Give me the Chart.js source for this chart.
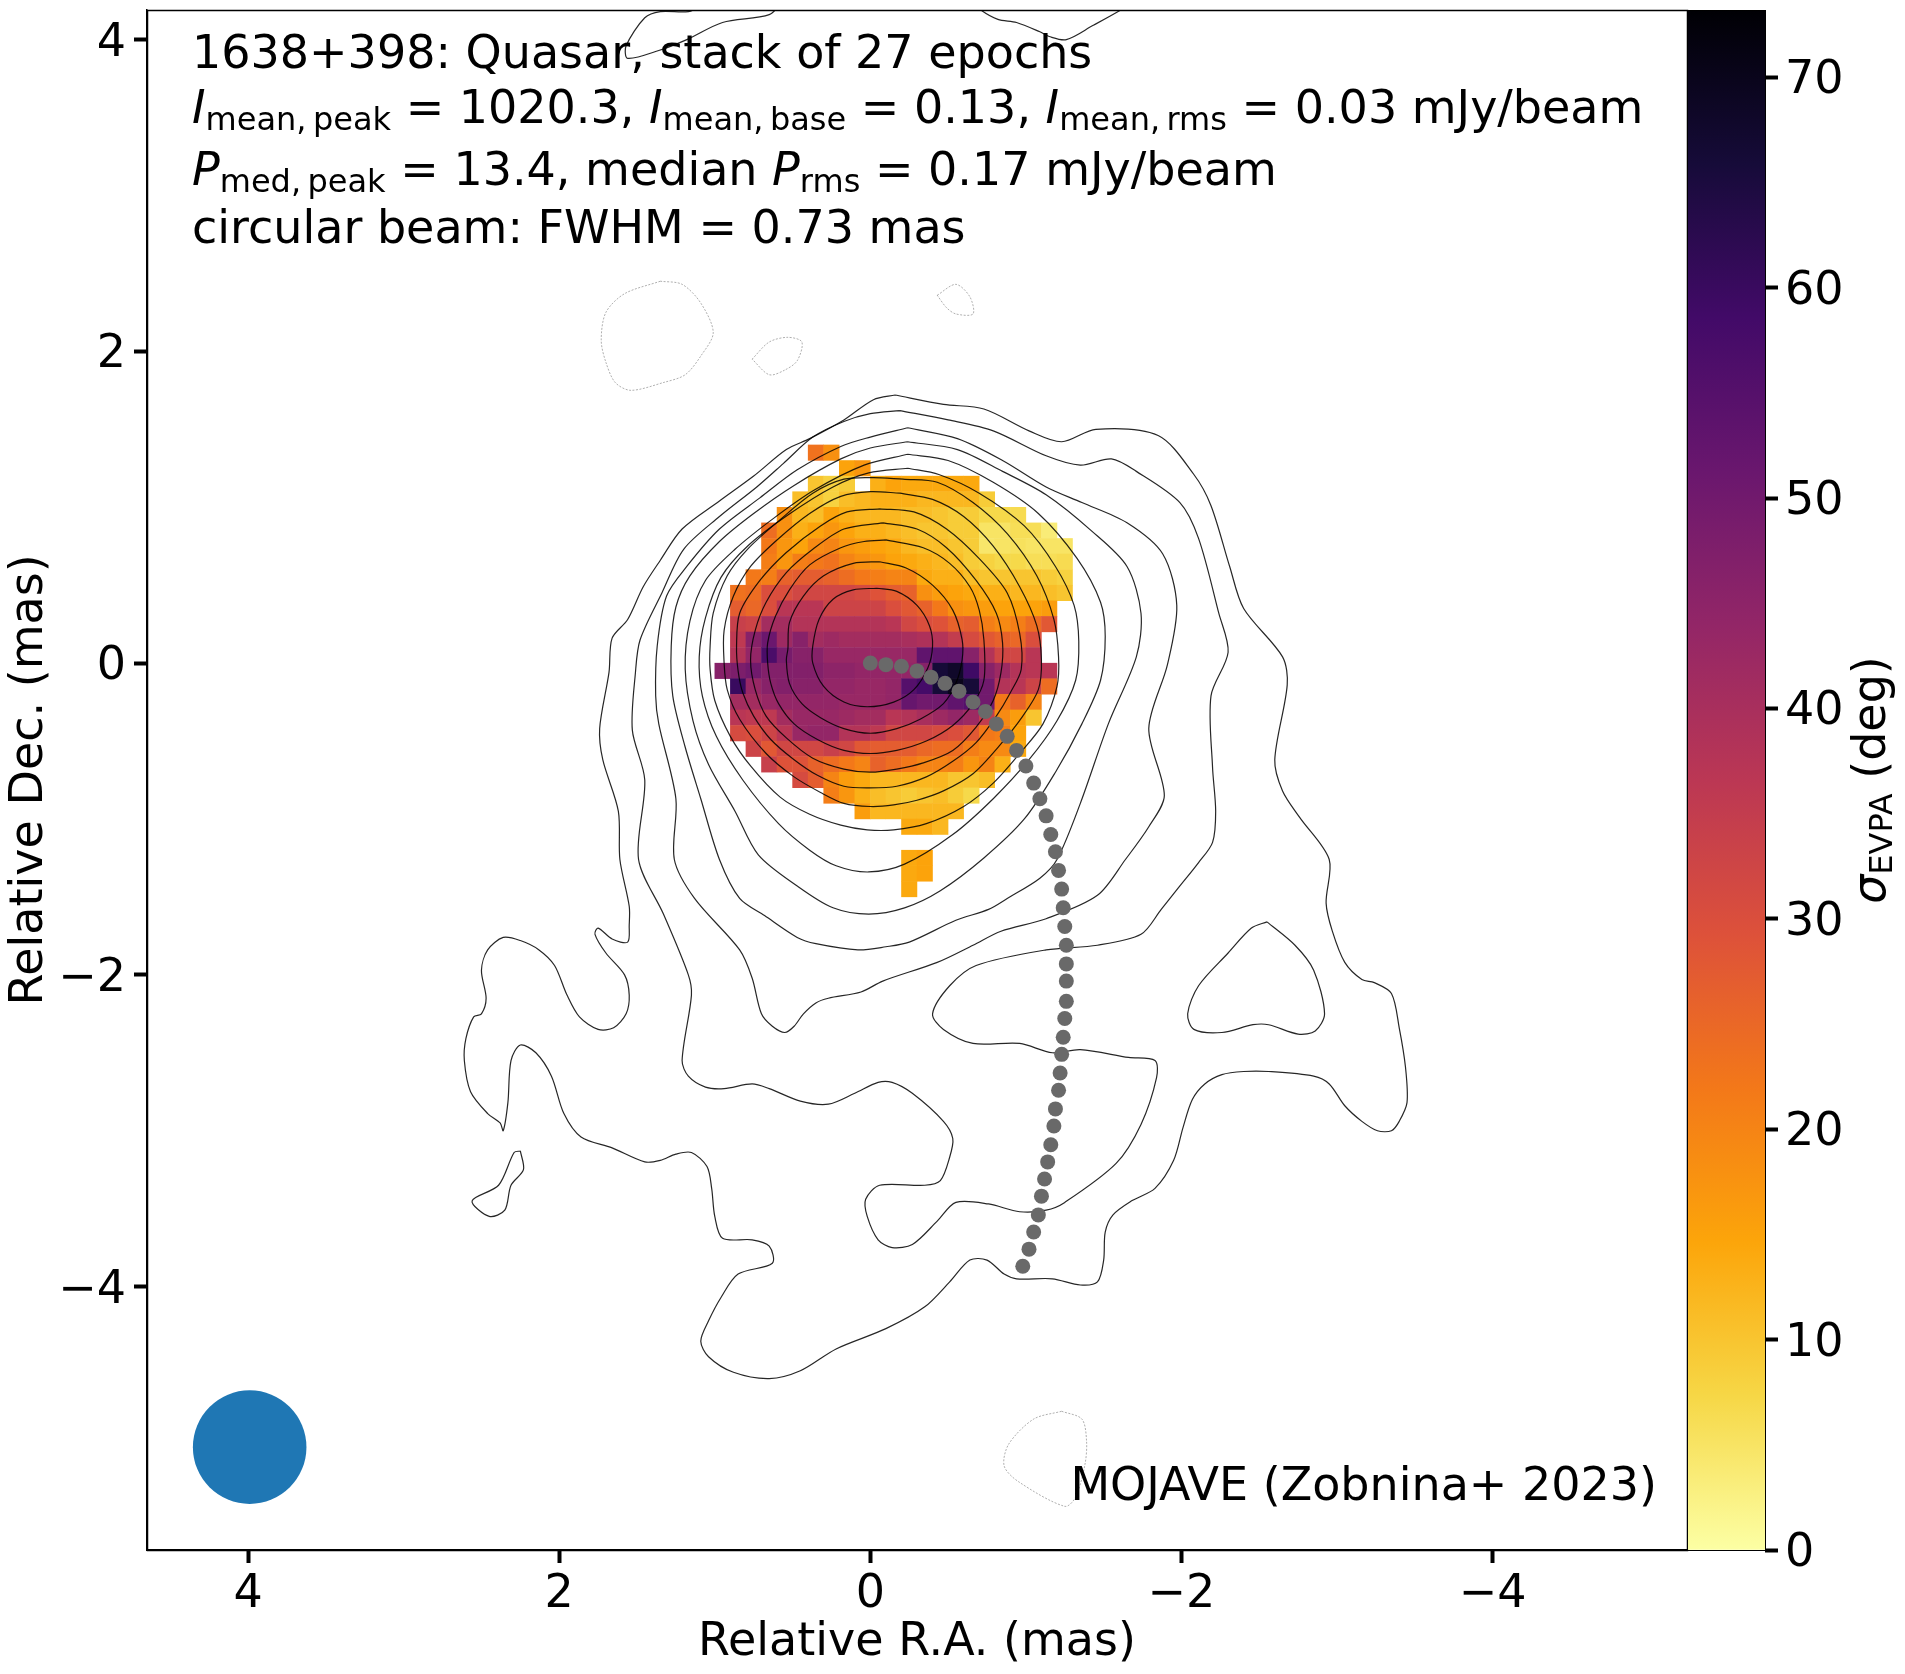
<!DOCTYPE html>
<html>
<head>
<meta charset="utf-8">
<title>1638+398</title>
<script src="https://cdn.jsdelivr.net/npm/chart.js@4"></script>
<style>
  body { margin: 0; background: #fff; }
  #wrap { position: relative; width: 1905px; height: 1674px; }
  canvas { position: absolute; top: 0; }
  #mainChart { left: 0; }
  #colorbar { left: 1687px; }
</style>
</head>
<body>
<div id="wrap">
  <canvas id="mainChart" width="1905" height="1674"></canvas>
  <canvas id="colorbar" width="218" height="1674"></canvas>
</div>
<script>
// Axis ranges and ticks (mas)
const xRange = [-5.25, 4.65];
const yRange = [-5.69, 4.19];
const xTicks = [4, 2, 0, -2, -4];
const yTicks = [4, 2, 0, -2, -4];
const colorbarMax = 73.2;
const colorbarTicks = [0, 10, 20, 30, 40, 50, 60, 70];

// inferno colormap, reversed in infernoColor below
const infernoStops = ["#000004", "#160b39", "#420a68", "#6a176e", "#932667", "#bb3754", "#dd513a", "#f37819", "#fca50a", "#f6d746", "#fcffa4"];

// EVPA spread per cell, row by row from the top. Columns run from R.A. +1.0 to -1.3, rows from Dec. +1.4 to -1.5
const _ = null;
const cellSize = 0.1;
const gridLeft = 1.0;
const gridTop = 1.4;
const sigmaEvpa = [
  [_,_,_,_,_,_,23,18,_,_,_,_,_,_,_,_,_,_,_,_,_,_,_],
  [_,_,_,_,_,_,_,_,15,17,_,_,_,_,_,_,_,_,_,_,_,_,_],
  [_,_,_,_,_,_,10,8,9,_,13,15,14,14,14,14,14,_,_,_,_,_,_],
  [_,_,_,_,_,11,10,8,11,12,13,13,13,12,12,12,12,9,_,_,_,_,_],
  [_,_,_,_,18,12,11,15,13,12,12,12,11,11,10,9,9,7,7,6.5,_,_,_],
  [_,_,_,24,18,13,15,17,15,13,13,12,11,10,10,9,9,5,5,6,6,3.5,_],
  [_,_,_,22,17,15,19,20,17,16,15,14,12,11,11,10,9,4.5,5,5.5,5,5,5],
  [_,_,_,21,17,21,22,23,20,18,17,15,14,13,12,11,9,8,7,7,6,6,6.5],
  [_,_,22,21,26,27,27,26,24,22,21,20,20,14,13,13,11,10,10,10,10,9,8],
  [_,23,24,30,30,32,32,32,32,31,29,27,26,18,16,15,14,13,13,12,12,11,10],
  [_,27,25,30,37,37,37,33,33,33,33,30,28,26,22,18,17,16,15,15,15,16,_],
  [_,34,33,41,41,38,38,38,38,38,38,37,32,30,29,26,27,21,19,21,24,28,_],
  [_,36,46,51,42,46,41,42,41,41,41,41,40,39,38,35,31,28,26,25,30,_,_],
  [_,38,44,57,49,46,46,43,43,43,43,43,43,53,53,53,46,38,32,32,37,_,_],
  [46,48,50,47,47,47,47,45,45,44,44,44,44,46,66,68,59,46,42,38,37,37,_],
  [_,60,43,46,47,46,46,44,44,43,43,44,55,58,66,70,66,50,38,37,33,24,_],
  [_,41,41,43,44,44,44,44,43,43,43,44,52,50,50,53,55,50,22,26,20,_,_],
  [_,37,36,36,41,43,43,43,42,41,41,37,38,40,42,44,42,35,19,16,10,_,_],
  [_,31,30,33,37,43,44,44,38,38,36,32,32,32,31,30,28,22,21,15,_,_,_],
  [_,_,33,28,32,32,32,34,32,28,27,27,27,25,24,24,21,19,19,14,_,_,_],
  [_,_,_,34,29,29,26,24,22,20,26,24,22,20,20,21,17,20,13,_,_,_,_],
  [_,_,_,_,_,31,27,20,16,14,12,12,12,12,12,10,10,11,_,_,_,_,_],
  [_,_,_,_,_,_,_,21,17,13,11,10,9,10,11,9,7,_,_,_,_,_,_],
  [_,_,_,_,_,_,_,_,_,16,12,12,12,12,12,12,_,_,_,_,_,_,_],
  [_,_,_,_,_,_,_,_,_,_,_,_,14,14,12,_,_,_,_,_,_,_,_],
  [_,_,_,_,_,_,_,_,_,_,_,_,_,_,_,_,_,_,_,_,_,_,_],
  [_,_,_,_,_,_,_,_,_,_,_,_,14,15,_,_,_,_,_,_,_,_,_],
  [_,_,_,_,_,_,_,_,_,_,_,_,14,15,_,_,_,_,_,_,_,_,_],
  [_,_,_,_,_,_,_,_,_,_,_,_,14,_,_,_,_,_,_,_,_,_,_]
];

// Stokes I contours, [R.A., Dec.] in mas, inner to outer
const contour1 = [[-0.04,0.48],[-0.17,0.46],[-0.30,0.37],[-0.38,0.24],[-0.40,0.11],[-0.37,-0.03],[-0.28,-0.17],[-0.15,-0.25],[0.02,-0.28],[0.17,-0.25],[0.30,-0.15],[0.37,0.00],[0.37,0.11],[0.33,0.28],[0.24,0.41],[0.11,0.47],[-0.04,0.48]];
const contour2 = [[-0.06,0.65],[-0.23,0.61],[-0.40,0.50],[-0.53,0.34],[-0.59,0.15],[-0.59,0.02],[-0.55,-0.13],[-0.47,-0.26],[-0.32,-0.36],[-0.17,-0.42],[0,-0.45],[0.17,-0.42],[0.32,-0.35],[0.44,-0.26],[0.52,-0.13],[0.54,0.02],[0.53,0.09],[0.52,0.26],[0.43,0.43],[0.30,0.56],[0.11,0.64],[-0.06,0.65]];
const contour3 = [[-0.10,0.79],[-0.34,0.74],[-0.51,0.64],[-0.64,0.49],[-0.70,0.34],[-0.73,0.15],[-0.73,-0.11],[-0.66,-0.26],[-0.53,-0.40],[-0.36,-0.50],[-0.17,-0.56],[0,-0.58],[0.17,-0.56],[0.34,-0.49],[0.49,-0.39],[0.59,-0.26],[0.64,-0.13],[0.66,0],[0.66,0.13],[0.61,0.30],[0.52,0.47],[0.39,0.63],[0.19,0.74],[0.04,0.78],[-0.10,0.79]];
const contour4 = [[-0.08,0.90],[-0.30,0.86],[-0.49,0.74],[-0.68,0.53],[-0.81,0.32],[-0.85,0.13],[-0.84,-0.06],[-0.79,-0.24],[-0.68,-0.41],[-0.53,-0.56],[-0.34,-0.64],[-0.17,-0.68],[0,-0.70],[0.17,-0.68],[0.37,-0.61],[0.54,-0.48],[0.67,-0.34],[0.74,-0.17],[0.77,0.02],[0.74,0.21],[0.67,0.39],[0.54,0.58],[0.37,0.73],[0.17,0.86],[-0.08,0.90]];
const contour5 = [[-0.06,0.99],[-0.28,0.97],[-0.49,0.86],[-0.70,0.67],[-0.88,0.45],[-0.96,0.19],[-0.97,-0.04],[-0.90,-0.19],[-0.81,-0.34],[-0.68,-0.51],[-0.53,-0.63],[-0.36,-0.73],[-0.17,-0.79],[0,-0.80],[0.17,-0.79],[0.34,-0.72],[0.49,-0.62],[0.64,-0.49],[0.75,-0.34],[0.82,-0.19],[0.85,-0.05],[0.86,0.11],[0.84,0.32],[0.71,0.53],[0.54,0.71],[0.32,0.88],[0.15,0.97],[-0.06,0.99]];
const contour6 = [[-0.19,1.09],[-0.40,1.05],[-0.60,0.94],[-0.79,0.75],[-0.96,0.49],[-1.07,0.24],[-1.10,0.02],[-1.08,-0.17],[-0.98,-0.34],[-0.83,-0.53],[-0.66,-0.71],[-0.47,-0.82],[-0.30,-0.88],[-0.15,-0.91],[0,-0.92],[0.17,-0.90],[0.32,-0.83],[0.49,-0.73],[0.67,-0.58],[0.84,-0.36],[0.92,-0.17],[0.94,0],[0.94,0.21],[0.88,0.43],[0.77,0.62],[0.60,0.79],[0.39,0.96],[0.19,1.07],[0,1.10],[-0.19,1.09]];
const contour7 = [[-0.21,1.18],[-0.43,1.16],[-0.66,1.03],[-0.88,0.83],[-1.07,0.56],[-1.18,0.28],[-1.21,0.04],[-1.20,-0.15],[-1.11,-0.39],[-0.96,-0.58],[-0.79,-0.77],[-0.60,-0.92],[-0.36,-1.03],[-0.15,-1.07],[0.02,-1.07],[0.19,-1.04],[0.39,-0.97],[0.58,-0.86],[0.77,-0.66],[0.90,-0.47],[1.0,-0.24],[1.03,-0.04],[1.03,0.11],[1.01,0.32],[0.92,0.56],[0.79,0.73],[0.58,0.92],[0.37,1.09],[0.17,1.18],[-0.02,1.19],[-0.21,1.18]];
const contour8 = [[-0.24,1.25],[-0.44,1.21],[-0.70,1.09],[-0.99,0.88],[-1.19,0.62],[-1.31,0.37],[-1.34,0.14],[-1.32,-0.11],[-1.20,-0.37],[-1.02,-0.62],[-0.79,-0.87],[-0.53,-1.10],[-0.22,-1.29],[0.01,-1.34],[0.22,-1.30],[0.39,-1.20],[0.59,-1.03],[0.82,-0.75],[0.99,-0.47],[1.08,-0.21],[1.10,0.04],[1.06,0.29],[0.96,0.55],[0.79,0.75],[0.53,0.95],[0.24,1.13],[0.01,1.22],[-0.24,1.25]];
const contour9 = [[-0.24,1.34],[-0.50,1.30],[-0.79,1.16],[-1.08,0.96],[-1.33,0.67],[-1.48,0.39],[-1.51,0.17],[-1.48,-0.11],[-1.36,-0.39],[-1.19,-0.70],[-0.99,-1.00],[-0.73,-1.25],[-0.45,-1.46],[-0.22,-1.57],[0.01,-1.61],[0.24,-1.57],[0.47,-1.43],[0.72,-1.23],[0.87,-0.95],[1.04,-0.65],[1.14,-0.37],[1.19,-0.04],[1.16,0.27],[1.06,0.53],[0.87,0.73],[0.62,0.93],[0.36,1.11],[0.04,1.27],[-0.24,1.34]];
const contour10 = [[-0.24,1.42],[-0.56,1.37],[-0.85,1.23],[-1.13,1.08],[-1.42,0.85],[-1.65,0.62],[-1.74,0.32],[-1.71,0.04],[-1.53,-0.39],[-1.35,-0.90],[-1.20,-1.26],[-1.09,-1.38],[-0.88,-1.51],[-0.76,-1.58],[-0.55,-1.65],[-0.25,-1.79],[-0.10,-1.82],[0.08,-1.84],[0.35,-1.80],[0.47,-1.76],[0.68,-1.62],[0.84,-1.51],[0.97,-1.26],[1.09,-0.87],[1.19,-0.54],[1.27,-0.21],[1.28,0.11],[1.25,0.36],[1.16,0.56],[0.97,0.78],[0.75,0.96],[0.49,1.14],[0.19,1.31],[0,1.38],[-0.24,1.42]];
const contour11 = [[-0.24,1.51],[-0.56,1.44],[-0.85,1.30],[-1.13,1.13],[-1.36,1.03],[-1.65,0.90],[-1.88,0.70],[-1.97,0.37],[-1.91,-0.01],[-1.79,-0.42],[-1.89,-0.85],[-1.79,-1.05],[-1.64,-1.26],[-1.46,-1.49],[-1.13,-1.64],[-0.84,-1.72],[-0.66,-1.81],[-0.43,-1.92],[-0.08,-2.04],[0.06,-2.11],[0.27,-2.15],[0.35,-2.18],[0.43,-2.25],[0.49,-2.33],[0.55,-2.37],[0.63,-2.33],[0.70,-2.25],[0.76,-2.02],[0.84,-1.84],[1.13,-1.51],[1.26,-1.26],[1.25,-0.87],[1.36,-0.39],[1.38,-0.21],[1.37,0.11],[1.31,0.43],[1.18,0.62],[0.97,0.86],[0.71,1.06],[0.47,1.24],[0.19,1.39],[0,1.45],[-0.24,1.51]];
const contour12 = [[-0.19,1.62],[-0.50,1.56],[-0.79,1.49],[-1.13,1.33],[-1.35,1.27],[-1.55,1.31],[-1.71,1.23],[-1.99,1.03],[-2.11,0.80],[-2.24,0.32],[-2.30,0.07],[-2.19,-0.21],[-2.20,-0.67],[-2.22,-0.95],[-2.20,-1.15],[-2.11,-1.28],[-1.99,-1.43],[-1.87,-1.58],[-1.74,-1.74],[-1.46,-1.81],[-1.13,-1.84],[-0.68,-1.94],[-0.51,-2.07],[-0.40,-2.25],[-0.47,-2.35],[-0.66,-2.44],[-0.96,-2.44],[-1.17,-2.50],[-1.35,-2.48],[-1.66,-2.53],[-1.83,-2.55],[-1.84,-2.66],[-1.74,-2.96],[-1.58,-3.21],[-1.25,-3.46],[-1.13,-3.51],[-0.96,-3.52],[-0.76,-3.47],[-0.55,-3.46],[-0.43,-3.58],[-0.27,-3.73],[-0.14,-3.75],[-0.05,-3.70],[0.02,-3.55],[0.03,-3.44],[-0.06,-3.35],[-0.35,-3.35],[-0.45,-3.32],[-0.51,-3.17],[-0.53,-3.05],[-0.47,-2.94],[-0.27,-2.76],[-0.14,-2.69],[-0.05,-2.69],[0.10,-2.76],[0.27,-2.83],[0.45,-2.81],[0.65,-2.73],[0.76,-2.70],[0.94,-2.73],[1.06,-2.72],[1.17,-2.65],[1.21,-2.55],[1.15,-2.13],[1.17,-2.00],[1.33,-1.61],[1.49,-1.26],[1.45,-0.75],[1.53,-0.43],[1.51,-0.06],[1.48,0.15],[1.34,0.45],[1.20,0.73],[0.97,0.94],[0.73,1.13],[0.56,1.28],[0.37,1.45],[0.17,1.55],[0,1.60],[-0.19,1.62]];
const contour13 = [[-0.16,1.72],[-0.47,1.66],[-0.73,1.63],[-1.02,1.49],[-1.23,1.42],[-1.45,1.50],[-1.85,1.46],[-2.08,1.21],[-2.19,1.01],[-2.31,0.62],[-2.40,0.35],[-2.65,0.04],[-2.68,-0.14],[-2.60,-0.62],[-2.65,-0.82],[-2.76,-0.99],[-2.95,-1.26],[-2.93,-1.54],[-2.97,-1.72],[-3.05,-1.92],[-3.16,-2.03],[-3.24,-2.05],[-3.35,-2.12],[-3.40,-2.34],[-3.44,-2.59],[-3.45,-2.82],[-3.40,-2.94],[-3.35,-3.00],[-3.26,-3.00],[-3.16,-2.94],[-3.05,-2.84],[-2.95,-2.70],[-2.85,-2.65],[-2.56,-2.62],[-2.40,-2.62],[-2.26,-2.64],[-2.15,-2.70],[-2.07,-2.80],[-2.01,-2.98],[-1.95,-3.19],[-1.83,-3.37],[-1.68,-3.45],[-1.56,-3.54],[-1.51,-3.65],[-1.50,-3.83],[-1.46,-3.97],[-1.35,-3.99],[-1.17,-3.95],[-0.94,-3.95],[-0.86,-3.92],[-0.75,-3.83],[-0.64,-3.83],[-0.51,-3.97],[-0.35,-4.13],[-0.10,-4.27],[0.22,-4.40],[0.45,-4.54],[0.65,-4.59],[0.88,-4.55],[1.04,-4.45],[1.09,-4.35],[1.04,-4.22],[0.96,-4.07],[0.85,-3.92],[0.63,-3.85],[0.65,-3.74],[0.76,-3.70],[0.95,-3.69],[1.00,-3.55],[1.02,-3.37],[1.05,-3.23],[1.15,-3.14],[1.25,-3.15],[1.35,-3.19],[1.45,-3.20],[1.66,-3.11],[1.86,-3.04],[1.97,-2.89],[2.05,-2.65],[2.15,-2.50],[2.25,-2.45],[2.31,-2.55],[2.33,-2.82],[2.36,-3.00],[2.38,-2.95],[2.46,-2.89],[2.57,-2.75],[2.61,-2.55],[2.60,-2.41],[2.55,-2.27],[2.50,-2.25],[2.47,-2.15],[2.50,-1.97],[2.46,-1.84],[2.36,-1.76],[2.25,-1.78],[2.13,-1.84],[2.03,-1.94],[1.95,-2.13],[1.87,-2.27],[1.75,-2.35],[1.65,-2.34],[1.57,-2.25],[1.55,-2.13],[1.58,-2.00],[1.70,-1.86],[1.77,-1.74],[1.75,-1.70],[1.66,-1.77],[1.56,-1.79],[1.55,-1.68],[1.55,-1.56],[1.61,-1.26],[1.62,-0.95],[1.72,-0.62],[1.74,-0.42],[1.68,-0.06],[1.66,0.16],[1.56,0.28],[1.46,0.49],[1.35,0.66],[1.21,0.86],[0.97,1.04],[0.75,1.20],[0.54,1.37],[0.39,1.44],[0.17,1.56],[-0.02,1.69],[-0.16,1.72]];
const contourHeart = [[-2.55,-1.66],[-2.73,-1.81],[-2.85,-1.97],[-2.92,-2.25],[-2.86,-2.36],[-2.75,-2.38],[-2.56,-2.32],[-2.46,-2.32],[-2.26,-2.37],[-2.08,-2.35],[-2.04,-2.25],[-2.11,-2.07],[-2.30,-1.86],[-2.45,-1.70],[-2.55,-1.66]];
const contourIsland = [[2.25,-3.13],[2.23,-3.25],[2.31,-3.35],[2.35,-3.51],[2.45,-3.55],[2.56,-3.45],[2.39,-3.35],[2.29,-3.14],[2.25,-3.13]];
const contourTopLeft = [[1.145,4.30],[1.145,4.187],[1.35,4.18],[1.45,4.14],[1.57,3.96],[1.56,3.88],[1.36,3.93],[1.18,4.00],[0.95,4.11],[0.65,4.16],[0.56,4.25]];
const contourTopRight = [[-0.65,4.25],[-0.71,4.19],[-0.82,4.13],[-0.94,4.11],[-1.09,4.05],[-1.15,4.02],[-1.26,4.00],[-1.43,4.09],[-1.61,4.19],[-1.70,4.25]];
const solidContours = [contour1, contour2, contour3, contour4, contour5, contour6, contour7, contour8, contour9, contour10, contour11, contour12, contour13, contourHeart, contourIsland, contourTopLeft, contourTopRight];

// Negative contour level, drawn dashed
const negativeBig = [[1.35,2.45],[1.21,2.43],[1.09,2.31],[1.01,2.12],[1.09,1.97],[1.19,1.85],[1.33,1.80],[1.54,1.75],[1.64,1.80],[1.70,1.93],[1.73,2.07],[1.70,2.25],[1.58,2.37],[1.35,2.45]];
const negativeSmall = [[0.76,1.95],[0.65,2.06],[0.53,2.09],[0.44,2.06],[0.47,1.94],[0.55,1.88],[0.65,1.85],[0.76,1.95]];
const negativeTop = [[-0.43,2.36],[-0.55,2.43],[-0.64,2.35],[-0.66,2.24],[-0.55,2.24],[-0.49,2.28],[-0.43,2.36]];
const negativeBottom = [[-1.23,-4.80],[-1.36,-4.85],[-1.39,-4.99],[-1.38,-5.14],[-1.32,-5.35],[-1.25,-5.41],[-0.95,-5.25],[-0.86,-5.15],[-0.89,-5.01],[-1.05,-4.85],[-1.23,-4.80]];
const negativeContours = [negativeBig, negativeSmall, negativeTop, negativeBottom];

// Ridge line points, [R.A., Dec.] in mas
const ridgeLine = [[0,0],[-0.10,-0.01],[-0.20,-0.02],[-0.30,-0.05],[-0.39,-0.09],[-0.48,-0.13],[-0.57,-0.18],[-0.66,-0.25],[-0.74,-0.31],[-0.81,-0.39],[-0.88,-0.47],[-0.94,-0.56],[-1.00,-0.66],[-1.05,-0.77],[-1.09,-0.87],[-1.13,-0.98],[-1.16,-1.10],[-1.19,-1.21],[-1.21,-1.33],[-1.23,-1.45],[-1.24,-1.57],[-1.25,-1.69],[-1.26,-1.81],[-1.26,-1.93],[-1.26,-2.04],[-1.26,-2.17],[-1.25,-2.28],[-1.24,-2.40],[-1.23,-2.51],[-1.22,-2.63],[-1.21,-2.74],[-1.19,-2.86],[-1.18,-2.97],[-1.16,-3.09],[-1.14,-3.20],[-1.12,-3.31],[-1.10,-3.42],[-1.08,-3.54],[-1.05,-3.65],[-1.02,-3.76],[-0.98,-3.87]];

// Restoring beam
const beamCenter = [3.99, -5.03];
const beamFwhm = 0.73;

const fontFamily = "'DejaVu Sans'";
const tickFontSize = 46;
const titleFontSize = 46;
const textFontSize = 46;

// Text runs: style "" is upright, "i" italic, "s" subscript
const infoLines = [
  [["1638+398: Quasar, stack of 27 epochs", ""]],
  [["I", "i"], ["mean,\u2009peak", "s"], [" = 1020.3, ", ""], ["I", "i"], ["mean,\u2009base", "s"], [" = 0.13, ", ""], ["I", "i"], ["mean,\u2009rms", "s"], [" = 0.03 mJy/beam", ""]],
  [["P", "i"], ["med,\u2009peak", "s"], [" = 13.4, median ", ""], ["P", "i"], ["rms", "s"], [" = 0.17 mJy/beam", ""]],
  [["circular beam: FWHM = 0.73 mas", ""]]
];
const infoBaselines = [68, 123, 185, 243];
const creditText = "MOJAVE (Zobnina+ 2023)";
const colorbarLabel = [["σ", "i"], ["EVPA", "s"], [" (deg)", ""]];

function hexToRgb(hex) {
    return [1, 3, 5].map(i => parseInt(hex.substr(i, 2), 16));
}

// inferno_r lookup for a sigma value
function infernoColor(value) {
    let t = (1 - value / colorbarMax) * (infernoStops.length - 1);
    let i = Math.min(Math.floor(t), infernoStops.length - 2);
    let a = hexToRgb(infernoStops[i]);
    let b = hexToRgb(infernoStops[i + 1]);
    let f = t - i;
    let rgb = a.map((c, k) => Math.round(c + (b[k] - c) * f));
    return `rgb(${rgb[0]}, ${rgb[1]}, ${rgb[2]})`;
}

function toPoints(pairs) {
    return pairs.map(p => ({ x: p[0], y: p[1] }));
}

function heatmapPoints() {
    let points = [];
    sigmaEvpa.forEach((row, r) => {
        row.forEach((value, c) => {
            if (value === null) return;
            points.push({
                x: gridLeft - (c + 0.5) * cellSize,
                y: gridTop - (r + 0.5) * cellSize,
                v: value
            });
        });
    });
    return points;
}

function pixelsPerMas(chart) {
    let x = chart.scales.x;
    return Math.abs(x.getPixelForValue(1) - x.getPixelForValue(0));
}

function runFont(style, size) {
    if (style === "i") return `italic ${size}px ${fontFamily}`;
    if (style === "s") return `${Math.round(size * 0.7)}px ${fontFamily}`;
    return `${size}px ${fontFamily}`;
}

function runsWidth(ctx, runs, size) {
    let width = 0;
    runs.forEach(run => {
        ctx.font = runFont(run[1], size);
        width += ctx.measureText(run[0]).width;
    });
    return width;
}

function drawRuns(ctx, runs, x, y, size) {
    runs.forEach(run => {
        ctx.font = runFont(run[1], size);
        let drop = run[1] === "s" ? size * 0.16 : 0;
        ctx.fillText(run[0], x, y + drop);
        x += ctx.measureText(run[0]).width;
    });
}

// Nudge the vertical axis tick labels down so the digits centre on their ticks
function shiftLabelsPlugin(offset) {
    return {
        id: "shiftLabels",
        beforeDraw(chart) {
            if (chart.$labelsShifted) return;
            chart.scales.y.getLabelItems().forEach(item => { item.textOffset += offset; });
            chart.$labelsShifted = true;
        }
    };
}

const framePlugin = {
    id: "frame",
    afterDraw(chart) {
        let ctx = chart.ctx;
        let area = chart.chartArea;
        ctx.save();
        ctx.strokeStyle = "#000";
        ctx.lineWidth = chart.canvas.id === "mainChart" ? 1.5 : 1;
        ctx.strokeRect(area.left + 0.5, area.top + 0.5, area.right - area.left, area.bottom - area.top);
        ctx.restore();
    }
};

const annotationPlugin = {
    id: "annotations",
    afterDraw(chart) {
        let ctx = chart.ctx;
        ctx.save();
        ctx.fillStyle = "#000";
        ctx.textBaseline = "alphabetic";
        ctx.textAlign = "left";
        infoLines.forEach((runs, i) => drawRuns(ctx, runs, 192, infoBaselines[i], textFontSize));
        ctx.font = runFont("", textFontSize);
        ctx.textAlign = "right";
        ctx.fillText(creditText, 1657, 1500);
        ctx.restore();
    }
};

const colorbarTitlePlugin = {
    id: "colorbarTitle",
    afterDraw(chart) {
        let ctx = chart.ctx;
        let area = chart.chartArea;
        ctx.save();
        ctx.fillStyle = "#000";
        ctx.textBaseline = "alphabetic";
        ctx.textAlign = "left";
        let width = runsWidth(ctx, colorbarLabel, titleFontSize);
        ctx.translate(198, (area.top + area.bottom) / 2 + width / 2);
        ctx.rotate(-Math.PI / 2);
        drawRuns(ctx, colorbarLabel, 0, 0, titleFontSize);
        ctx.restore();
    }
};

function minusLabel(value) {
    return String(value).replace("-", "\u2212");
}

let datasets = [];

// Gray ridge points sit on top of everything
datasets.push({
    data: toPoints(ridgeLine),
    order: 1,
    showLine: false,
    pointRadius: 7.5,
    pointBorderWidth: 0,
    pointBackgroundColor: "#696969"
});

solidContours.forEach(contour => {
    datasets.push({
        data: toPoints(contour),
        order: 2,
        showLine: true,
        tension: 0.3,
        pointRadius: 0,
        borderWidth: 1.2,
        borderColor: "rgba(0, 0, 0, 0.85)"
    });
});

negativeContours.forEach(contour => {
    datasets.push({
        data: toPoints(contour),
        order: 2,
        showLine: true,
        tension: 0.3,
        pointRadius: 0,
        borderWidth: 0.8,
        borderDash: [2, 1.5],
        borderColor: "rgba(0, 0, 0, 0.4)"
    });
});

datasets.push({
    data: toPoints([beamCenter]),
    order: 2,
    showLine: false,
    pointBorderWidth: 0,
    pointBackgroundColor: "#1f77b4",
    pointRadius: ctx => pixelsPerMas(ctx.chart) * beamFwhm / 2
});

// Heatmap cells as square points, slightly oversized to hide seams
datasets.push({
    data: heatmapPoints(),
    order: 3,
    showLine: false,
    pointStyle: "rect",
    pointBorderWidth: 0,
    pointRadius: ctx => (pixelsPerMas(ctx.chart) * cellSize + 0.5) * Math.SQRT1_2,
    pointBackgroundColor: ctx => ctx.raw ? infernoColor(ctx.raw.v) : "#fff"
});

new Chart(document.getElementById("mainChart"), {
    type: "scatter",
    data: { datasets: datasets },
    options: {
        responsive: false,
        animation: false,
        devicePixelRatio: 1,
        layout: { autoPadding: false, padding: { left: 0, top: 10, right: 218, bottom: 0 } },
        plugins: { legend: { display: false }, tooltip: { enabled: false } },
        scales: {
            x: {
                type: "linear",
                reverse: true,
                min: xRange[0],
                max: xRange[1],
                afterFit: scale => {
                    scale.height = 124;
                    scale.paddingLeft = 0;
                    scale.paddingRight = 0;
                },
                afterBuildTicks: scale => { scale.ticks = xTicks.map(v => ({ value: v })); },
                grid: { drawOnChartArea: false, tickLength: 13, tickWidth: 4, tickColor: "#000" },
                border: { color: "#000", width: 1.5 },
                ticks: {
                    autoSkip: false,
                    maxRotation: 0,
                    padding: 4,
                    color: "#000",
                    font: { family: fontFamily, size: tickFontSize },
                    callback: minusLabel
                },
                title: {
                    display: true,
                    text: "Relative R.A. (mas)",
                    color: "#000",
                    font: { family: fontFamily, size: titleFontSize },
                    padding: { top: 0, bottom: 3 }
                }
            },
            y: {
                type: "linear",
                min: yRange[0],
                max: yRange[1],
                afterFit: scale => {
                    scale.width = 147;
                    scale.paddingTop = 0;
                    scale.paddingBottom = 0;
                },
                afterBuildTicks: scale => { scale.ticks = yTicks.map(v => ({ value: v })); },
                grid: { drawOnChartArea: false, tickLength: 13, tickWidth: 4, tickColor: "#000" },
                border: { color: "#000", width: 1.5 },
                ticks: {
                    autoSkip: false,
                    padding: 8,
                    color: "#000",
                    font: { family: fontFamily, size: tickFontSize },
                    callback: minusLabel
                },
                title: {
                    display: true,
                    text: "Relative Dec. (mas)",
                    color: "#000",
                    font: { family: fontFamily, size: titleFontSize },
                    padding: { top: 2, bottom: 0 }
                }
            }
        }
    },
    plugins: [shiftLabelsPlugin(4), framePlugin, annotationPlugin]
});

function colorbarFill(ctx) {
    let chart = ctx.chart;
    if (!chart.chartArea) return "#000";
    let y = chart.scales.y;
    let gradient = chart.ctx.createLinearGradient(0, y.getPixelForValue(colorbarMax), 0, y.getPixelForValue(0));
    infernoStops.forEach((color, i) => gradient.addColorStop(i / (infernoStops.length - 1), color));
    return gradient;
}

new Chart(document.getElementById("colorbar"), {
    type: "bar",
    data: {
        labels: ["sigma"],
        datasets: [{
            data: [[0, colorbarMax]],
            barPercentage: 1,
            categoryPercentage: 1,
            backgroundColor: colorbarFill
        }]
    },
    options: {
        responsive: false,
        animation: false,
        devicePixelRatio: 1,
        layout: { autoPadding: false, padding: { left: 0, top: 10, right: 0, bottom: 124 } },
        plugins: { legend: { display: false }, tooltip: { enabled: false } },
        scales: {
            x: { display: false },
            y: {
                position: "right",
                min: 0,
                max: colorbarMax,
                afterFit: scale => {
                    scale.width = 140;
                    scale.paddingTop = 0;
                    scale.paddingBottom = 0;
                },
                afterBuildTicks: scale => { scale.ticks = colorbarTicks.map(v => ({ value: v })); },
                grid: { drawOnChartArea: false, tickLength: 13, tickWidth: 4, tickColor: "#000" },
                border: { display: false },
                ticks: {
                    autoSkip: false,
                    padding: 7,
                    color: "#000",
                    font: { family: fontFamily, size: tickFontSize }
                }
            }
        }
    },
    plugins: [shiftLabelsPlugin(4), framePlugin, colorbarTitlePlugin]
});
</script>
</body>
</html>
